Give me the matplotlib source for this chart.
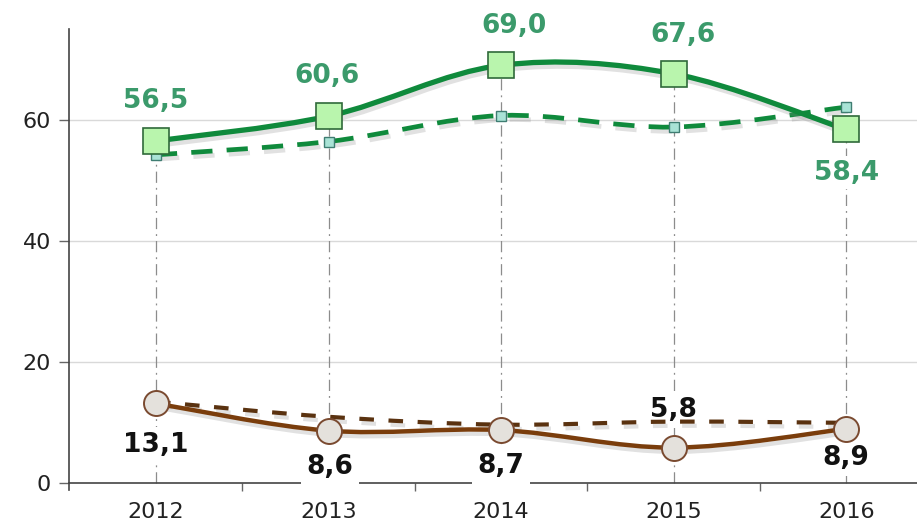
import numpy as np
import matplotlib
matplotlib.use("Agg")
import matplotlib.pyplot as plt
from matplotlib.path import Path
from matplotlib.patches import PathPatch
import matplotlib.patheffects as pe

years = ["2012", "2013", "2014", "2015", "2016"]
green_main = [56.5, 60.6, 69.0, 67.6, 58.4]
green_dash = [54.2, 56.4, 60.7, 58.8, 62.1]
brown_main = [13.1, 8.6, 8.7, 5.8, 8.9]
brown_dash = [13.4, 10.9, 9.6, 10.1, 9.9]

# label offsets in points (dx, dy) relative to each point
green_offs = [(0, 29), (-1, 29), (9, 28), (7, 28), (0, -31)]
brown_offs = [(0, -30), (1, -26), (0, -26), (0, 27), (0, -21)]

GREEN = "#0f8a3c"
GREEN_TXT = "#3b9a6b"
BROWN = "#7a3d0c"


def smooth_path(xs, ys):
    # catmull-rom -> cubic bezier, like spreadsheet "smoothed line"
    pts = np.column_stack([xs, ys]).astype(float)
    ext = np.vstack([pts[0], pts, pts[-1]])
    verts = [pts[0]]
    codes = [Path.MOVETO]
    for i in range(len(pts) - 1):
        p0, p1, p2, p3 = ext[i], ext[i + 1], ext[i + 2], ext[i + 3]
        verts += [p1 + (p2 - p0) / 6, p2 - (p3 - p1) / 6, p2]
        codes += [Path.CURVE4] * 3
    return Path(verts, codes)


def shadow():
    return [pe.SimpleLineShadow(offset=(1.5, -3), shadow_color="#888888", alpha=0.25),
            pe.Normal()]


fig = plt.figure(figsize=(9.17, 5.25), dpi=100)
ax = fig.add_axes([0.0752, 0.0667, 0.9248, 0.878])
x = np.arange(len(years))

ax.set_xlim(-0.504, 4.41)
ax.set_ylim(-1.2, 75)

# grid
for yv in [20, 40, 60]:
    ax.axhline(yv, color="#d9d9d9", lw=1, zorder=1)

# drop lines
for xi, yv in zip(x, green_main):
    ax.plot([xi, xi], [0, yv], color="#8c8c8c", lw=0.9,
            linestyle=(0, (9, 4, 1.5, 4)), zorder=1.5)

# curves
ax.add_patch(PathPatch(smooth_path(x, green_dash), fill=False, edgecolor=GREEN,
                       lw=3.4, linestyle=(0, (4.5, 3)), capstyle="butt",
                       zorder=4, path_effects=shadow()))
ax.add_patch(PathPatch(smooth_path(x, green_main), fill=False, edgecolor=GREEN,
                       lw=3.8, zorder=5, path_effects=shadow()))
ax.add_patch(PathPatch(smooth_path(x, brown_dash), fill=False, edgecolor="#5a3210",
                       lw=3.0, linestyle=(0, (3.5, 3.5)), capstyle="butt",
                       zorder=4, path_effects=shadow()))
ax.add_patch(PathPatch(smooth_path(x, brown_main), fill=False, edgecolor=BROWN,
                       lw=3.2, zorder=5, path_effects=shadow()))

# markers
ax.plot(x, green_dash, linestyle="none", marker="s", ms=7, mfc="#a9e3d6",
        mec="#3f7d72", mew=1, zorder=6)
ax.plot(x, green_main, linestyle="none", marker="s", ms=19, mfc="#b9f5ad",
        mec="#2f6a3a", mew=1.2, zorder=7)
ax.plot(x, brown_main, linestyle="none", marker="o", ms=18, mfc="#e4e1dc",
        mec="#7a4a30", mew=1.4, zorder=7)

# value labels
for xi, yv, off in zip(x, green_main, green_offs):
    ax.annotate(f"{yv:.1f}".replace(".", ","), (xi, yv), xytext=off,
                textcoords="offset points", ha="center", va="center",
                fontsize=19, fontweight="bold", color=GREEN_TXT, zorder=3,
                bbox=dict(boxstyle="square,pad=0.15", fc="white", ec="none"))
for xi, yv, off in zip(x, brown_main, brown_offs):
    ax.annotate(f"{yv:.1f}".replace(".", ","), (xi, yv), xytext=off,
                textcoords="offset points", ha="center", va="center",
                fontsize=19, fontweight="bold", color="#111111", zorder=3,
                bbox=dict(boxstyle="square,pad=0.2", fc="white", ec="none"))

# axes styling
for s in ["top", "right"]:
    ax.spines[s].set_visible(False)
ax.spines["bottom"].set_position(("data", 0))
ax.spines["left"].set_color("#444444")
ax.spines["bottom"].set_color("#444444")
ax.spines["left"].set_linewidth(1.2)
ax.spines["bottom"].set_linewidth(1.2)

ax.set_yticks([0, 20, 40, 60])
ax.tick_params(axis="y", length=7, width=1, color="#666666", labelsize=16,
               labelcolor="#222222", pad=6)
ax.set_xticks(x)
ax.set_xticklabels(years)
ax.set_xticks(x[:-1] + 0.5, minor=True)
ax.tick_params(axis="x", which="major", length=0, labelsize=16,
               labelcolor="#222222", pad=14)
ax.tick_params(axis="x", which="minor", length=6, width=1, color="#666666",
               direction="out")
for lbl in ax.get_xticklabels():
    lbl.set_y(-0.0)

fig.savefig("out.png", dpi=100)
